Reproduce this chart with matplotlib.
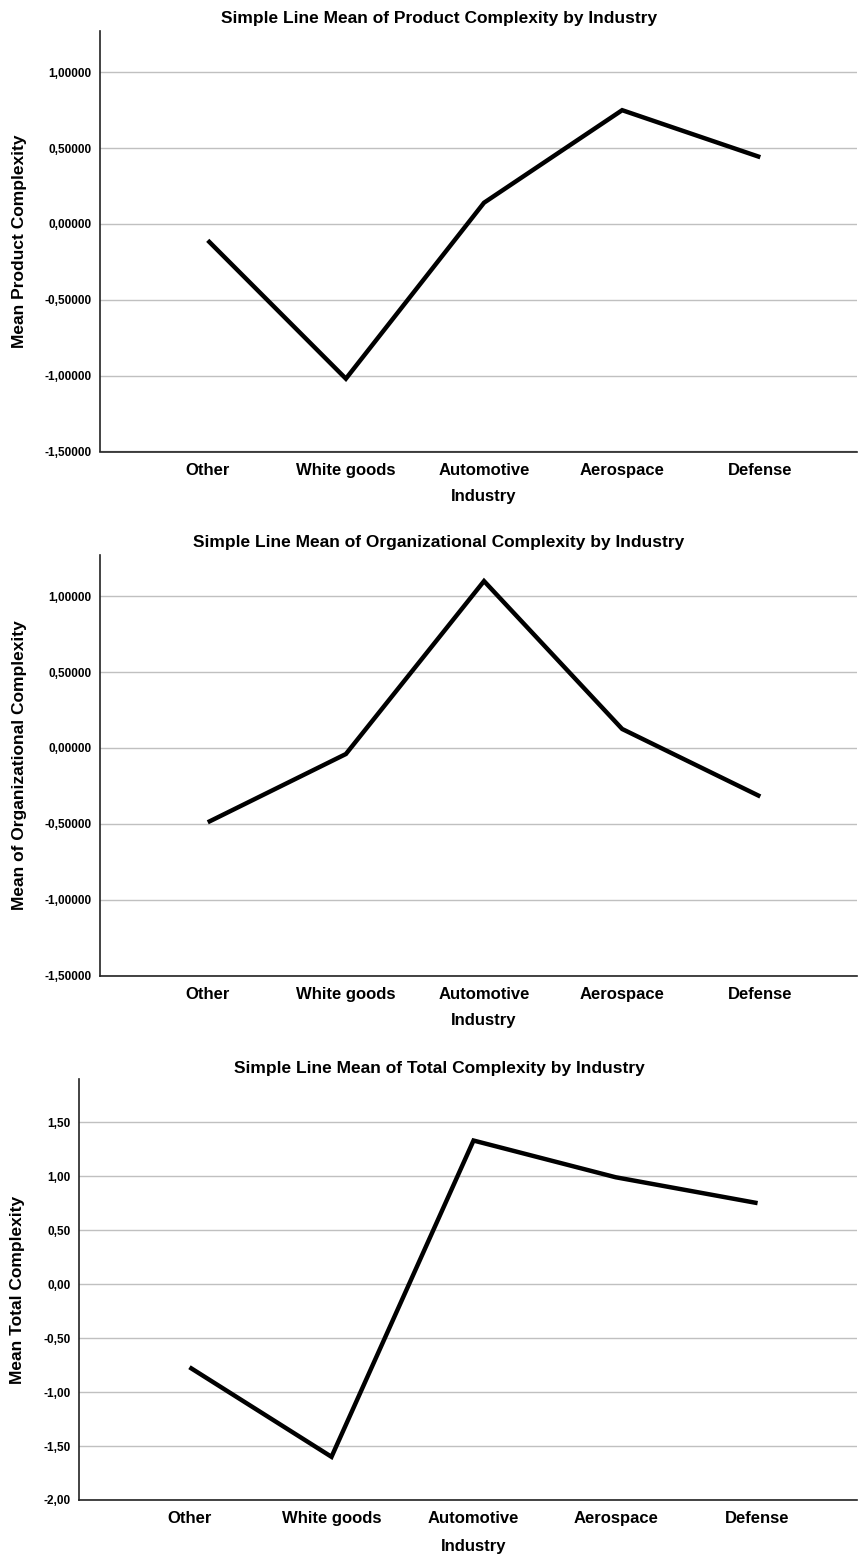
import matplotlib
matplotlib.use("Agg")
import matplotlib.pyplot as plt
from matplotlib.ticker import FuncFormatter, FixedLocator

plt.rcParams['font.family'] = ['Liberation Sans', 'DejaVu Sans']
plt.rcParams['font.weight'] = 'bold'

industries = ["Other", "White goods", "Automotive", "Aerospace", "Defense"]
product_complexity = [-0.108, -1.02, 0.14, 0.75, 0.44]
organizational_complexity = [-0.49, -0.04, 1.10, 0.125, -0.32]
total_complexity = [-0.77, -1.60, 1.33, 0.99, 0.75]

titles = ["Simple Line Mean of Product Complexity by Industry",
          "Simple Line Mean of Organizational Complexity by Industry",
          "Simple Line Mean of Total Complexity by Industry"]
ylabels = ["Mean Product Complexity", "Mean of Organizational Complexity",
           "Mean Total Complexity"]
yticks_12 = [-1.5, -1.0, -0.5, 0.0, 0.5, 1.0]
yticks_3 = [-2.0, -1.5, -1.0, -0.5, 0.0, 0.5, 1.0, 1.5]

W, H = 858, 1556
fig = plt.figure(figsize=(W / 100, H / 100), dpi=100)

# (left_px, top_px, right_px, bottom_px)
boxes = [(100, 31, 857, 451.5), (100, 555, 857, 975.5), (78.7, 1079, 857, 1500)]
title_y = [18, 543, 1068]
ylabel_x = [27, 27, 25]
xlabel_y = [-0.09, -0.09, -0.093]
series = [product_complexity, organizational_complexity, total_complexity]
ylims = [(-1.5, 1.272), (-1.5, 1.272), (-2.0, 1.90)]
yticks = [yticks_12, yticks_12, yticks_3]
decs = [5, 5, 2]
xlim = (-0.78, 4.70)

for i in range(3):
    l, t, r, b = boxes[i]
    ax = fig.add_axes([l / W, 1 - b / H, (r - l) / W, (b - t) / H])
    x = list(range(len(industries)))
    ax.plot(x, series[i], color='black', lw=3.2, solid_joinstyle='miter',
            solid_capstyle='butt', zorder=3)
    ax.set_xlim(*xlim)
    ax.set_ylim(*ylims[i])
    ax.yaxis.set_major_locator(FixedLocator(yticks[i]))
    d = decs[i]
    ax.yaxis.set_major_formatter(FuncFormatter(
        lambda v, p, d=d: (f"{v:.{d}f}").replace('.', ',')))
    ax.set_xticks(x)
    ax.set_xticklabels(industries, fontsize=12, fontweight='bold')
    ax.tick_params(axis='y', length=0, pad=6, labelsize=8.5)
    ax.tick_params(axis='x', length=0, pad=8)
    for lab in ax.get_yticklabels():
        lab.set_fontweight('bold')
    ax.grid(axis='y', color='#c0c0c0', lw=1.0, zorder=0)
    ax.set_axisbelow(True)
    for s in ['top', 'right']:
        ax.spines[s].set_visible(False)
    for s in ['left', 'bottom']:
        ax.spines[s].set_color('#222222')
        ax.spines[s].set_linewidth(1.2)
    ax.set_ylabel(ylabels[i], fontsize=12.5, fontweight='bold')
    ax.yaxis.set_label_coords((ylabel_x[i] - l) / (r - l), 0.5)
    ax.set_xlabel("Industry", fontsize=12, fontweight='bold')
    ax.xaxis.set_label_coords((2 - xlim[0]) / (xlim[1] - xlim[0]), xlabel_y[i])
    fig.text(439 / W, 1 - title_y[i] / H, titles[i], ha='center', va='center',
             fontsize=12.5, fontweight='bold')

fig.savefig("out.png", dpi=100)
